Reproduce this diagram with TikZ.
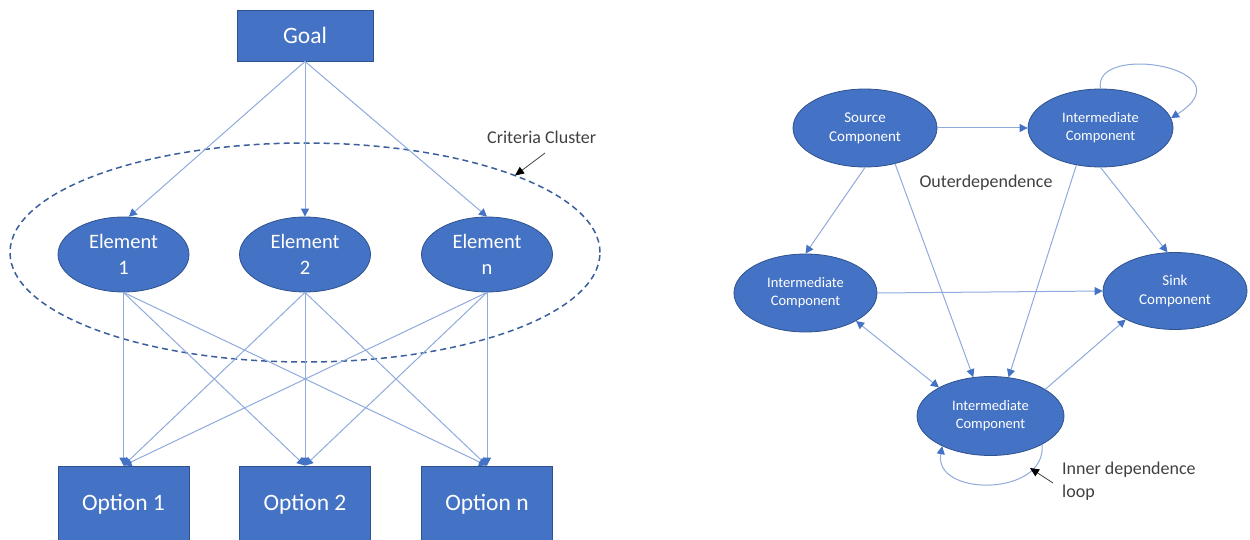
\documentclass[tikz,border=0pt]{standalone}
\usepackage{fontspec}
\setmainfont{Carlito}
\usetikzlibrary{shapes.geometric,arrows.meta}

\definecolor{boxfill}{HTML}{4472C4}
\definecolor{boxline}{HTML}{2F528F}
\definecolor{linkcol}{HTML}{8FAADC}
\definecolor{clustercol}{HTML}{3B5E9C}
\definecolor{notecol}{HTML}{404040}

\tikzset{
  block/.style={rectangle, fill=boxfill, draw=boxline, line width=0.8pt,
    text=white, inner sep=0pt},
  blob/.style={ellipse, fill=boxfill, draw=boxline, line width=0.8pt,
    text=white, inner sep=0pt, align=center},
  link/.style={draw=linkcol, line width=1pt,
    -{Triangle[length=8pt,width=8pt,color=boxfill]}},
  twolink/.style={draw=linkcol, line width=1pt,
    {Triangle[length=8pt,width=8pt,color=boxfill]}-{Triangle[length=8pt,width=8pt,color=boxfill]}},
  note/.style={text=notecol, inner sep=0pt, font=\fontsize{18}{21}\selectfont},
  pointer/.style={draw=notecol, line width=0.8pt,
    -{Triangle[length=9pt,width=8pt,color=black]}},
}

\begin{document}
\begin{tikzpicture}[x=1pt,y=-1pt]
\useasboundingbox (0,0) rectangle (1250,540);

% ---------------- hierarchy ----------------
\node[block, minimum width=136pt, minimum height=51pt,
  font=\fontsize{23.5}{26}\selectfont] (goal) at (305,35.5) {Goal};

\node[blob, minimum width=131pt, minimum height=75pt,
  font=\fontsize{20.5}{26}\selectfont] (e1) at (123.5,254.5) {Element\\1};
\node[blob, minimum width=131pt, minimum height=75pt,
  font=\fontsize{20.5}{26}\selectfont] (e2) at (305,254.5) {Element\\2};
\node[blob, minimum width=131pt, minimum height=75pt,
  font=\fontsize{20.5}{26}\selectfont] (en) at (487,254.5) {Element\\n};

\node[block, minimum width=131pt, minimum height=76pt,
  font=\fontsize{23.5}{26}\selectfont] (o1) at (123.5,504) {Option 1};
\node[block, minimum width=131pt, minimum height=76pt,
  font=\fontsize{23.5}{26}\selectfont] (o2) at (305,504) {Option 2};
\node[block, minimum width=131pt, minimum height=76pt,
  font=\fontsize{23.5}{26}\selectfont] (on) at (487,504) {Option n};

% criteria cluster outline
\node[ellipse, draw=clustercol, line width=1.5pt,
  dash pattern=on 6pt off 4pt, minimum width=590pt, minimum height=219pt]
  (cluster) at (305,252.5) {};

\draw[link] (goal.south) -- (e1.82);
\draw[link] (goal.south) -- (e2.north);
\draw[link] (goal.south) -- (en.north);

\foreach \e in {e1,e2,en}{
  \foreach \o in {o1,o2,on}{
    \draw[link] (\e.south) -- (\o.north);
  }
}

\node[note, anchor=west] (clusterlabel) at (487,137) {Criteria Cluster};
\coordinate (clustertip) at (515,175.5);
\draw[pointer] (545,153) -- (clustertip);

% ---------------- network ----------------
\node[blob, minimum width=144pt, minimum height=78pt,
  font=\fontsize{15}{19}\selectfont] (src) at (865,128) {Source\\Component};
\node[blob, minimum width=145pt, minimum height=78pt,
  font=\fontsize{14.5}{18}\selectfont] (itr) at (1100.5,128) {Intermediate\\Component};
\node[blob, minimum width=143pt, minimum height=78pt,
  font=\fontsize{14.5}{18}\selectfont] (il) at (805.5,293) {Intermediate\\Component};
\node[blob, minimum width=144pt, minimum height=77pt,
  font=\fontsize{15}{19}\selectfont] (sink) at (1175,291) {Sink\\Component};
\node[blob, minimum width=147pt, minimum height=79pt,
  font=\fontsize{14.5}{18}\selectfont] (ib) at (990.5,416) {Intermediate\\Component};

\draw[link] (src.east) -- (itr.west);
\draw[link] (src.south) -- (il.north);
\draw[link] (src.-50) -- (ib.114);
\draw[link] (itr.-123) -- (ib.65);
\draw[link] (itr.south) -- (sink.101);
\draw[link] (il.east) -- (sink.west);
\draw[twolink] (il.-29.5) -- (ib.151);
\draw[link] (ib.26.6) -- (sink.-150.5);

% self loops
\draw[link] (itr.north) .. controls (1092,42) and (1250,68) .. (itr.8);
\draw[link] (ib.-29) .. controls (1047,497) and (933,497) .. (ib.-148);

\node[note, anchor=center] (outer) at (986,183) {Outerdependence};
\node[note, anchor=north west, align=left,
  font=\fontsize{18}{23}\selectfont] (innerlabel) at (1062,462) {Inner dependence\\loop};
\coordinate (innertip) at (1030,468);
\draw[pointer] (1053,483) -- (innertip);

\end{tikzpicture}
\end{document}
